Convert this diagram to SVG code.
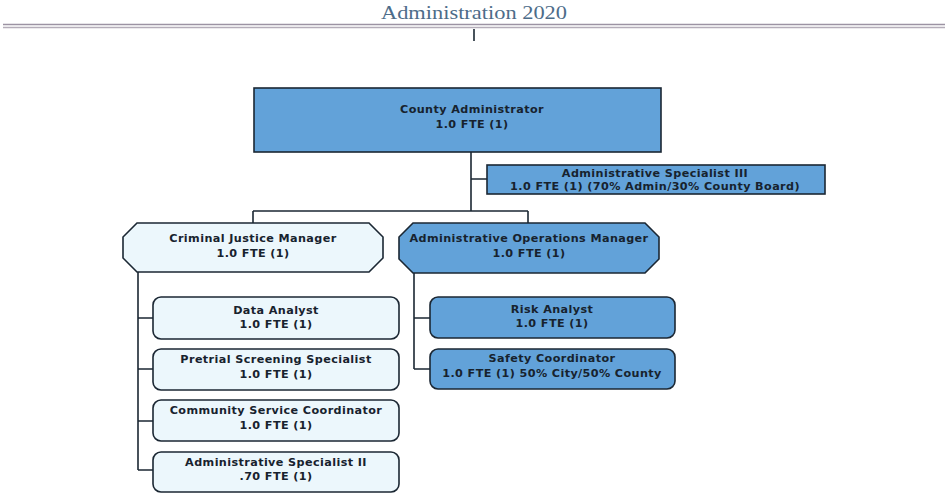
<svg xmlns="http://www.w3.org/2000/svg" width="948" height="496" viewBox="0 0 948 496">
<style>
.dark{fill:#62a2d9;stroke:#1b2733;stroke-width:1.6}
.light{fill:#ecf7fc;stroke:#1b2733;stroke-width:1.6}
.t{font-family:"DejaVu Sans",Verdana,sans-serif;font-weight:bold;font-size:11.2px;letter-spacing:0.4px;fill:#17222e;text-anchor:middle}
.c{stroke:#1b2733;stroke-width:1.6;fill:none}
</style>
<rect width="948" height="496" fill="#ffffff"/>
<g id="header">
<text x="474" y="19" font-family="Liberation Serif,serif" font-size="19" fill="#4d6c89" text-anchor="middle" textLength="186" lengthAdjust="spacingAndGlyphs">Administration 2020</text>
<line x1="3" y1="24.5" x2="945" y2="24.5" stroke="#9c93a3" stroke-width="1.5"/>
<line x1="3" y1="27.5" x2="945" y2="27.5" stroke="#b4adb9" stroke-width="1.5"/>
</g>
<g id="connectors">
<line class="c" x1="474" y1="29" x2="474" y2="41"/>
<path class="c" d="M471 152 V211 M471 179 H487 M253 211 H528 M253 211 V223 M528 211 V223"/>
<path class="c" d="M138 272 V470 M138 318 H153 M138 369 H153 M138 421 H153 M138 470 H153"/>
<path class="c" d="M414 273 V369 M414 318 H430 M414 369 H430"/>
</g>
<g id="county-administrator">
<rect class="dark" x="254" y="88" width="407" height="64"/>
<text class="t" x="472" y="113">County Administrator</text>
<text class="t" x="472" y="128">1.0 FTE (1)</text>
</g>
<g id="admin-specialist-iii">
<rect class="dark" x="487" y="165" width="338" height="29"/>
<text class="t" x="655" y="177">Administrative Specialist III</text>
<text class="t" x="655" y="190">1.0 FTE (1) (70% Admin/30% County Board)</text>
</g>
<g id="criminal-justice-manager">
<polygon class="light" points="137,223 369,223 383,237 383,258 369,272 137,272 123,258 123,237"/>
<text class="t" x="253" y="242">Criminal Justice Manager</text>
<text class="t" x="253" y="257">1.0 FTE (1)</text>
</g>
<g id="admin-operations-manager">
<polygon class="dark" points="413,223 645,223 659,237 659,259 645,273 413,273 399,259 399,237"/>
<text class="t" x="529" y="242">Administrative Operations Manager</text>
<text class="t" x="529" y="257">1.0 FTE (1)</text>
</g>
<g id="data-analyst">
<rect class="light" x="153" y="297" width="246" height="42" rx="8"/>
<text class="t" x="276" y="314">Data Analyst</text>
<text class="t" x="276" y="328">1.0 FTE (1)</text>
</g>
<g id="pretrial-screening-specialist">
<rect class="light" x="153" y="349" width="246" height="41" rx="8"/>
<text class="t" x="276" y="363">Pretrial Screening Specialist</text>
<text class="t" x="276" y="378">1.0 FTE (1)</text>
</g>
<g id="community-service-coordinator">
<rect class="light" x="153" y="400" width="246" height="41" rx="8"/>
<text class="t" x="276" y="414">Community Service Coordinator</text>
<text class="t" x="276" y="429">1.0 FTE (1)</text>
</g>
<g id="admin-specialist-ii">
<rect class="light" x="153" y="452" width="246" height="40" rx="8"/>
<text class="t" x="276" y="466">Administrative Specialist II</text>
<text class="t" x="276" y="480">.70 FTE (1)</text>
</g>
<g id="risk-analyst">
<rect class="dark" x="430" y="297" width="245" height="41" rx="8"/>
<text class="t" x="552" y="313">Risk Analyst</text>
<text class="t" x="552" y="327">1.0 FTE (1)</text>
</g>
<g id="safety-coordinator">
<rect class="dark" x="430" y="349" width="245" height="40" rx="8"/>
<text class="t" x="552" y="362">Safety Coordinator</text>
<text class="t" x="552" y="377">1.0 FTE (1) 50% City/50% County</text>
</g>
</svg>
